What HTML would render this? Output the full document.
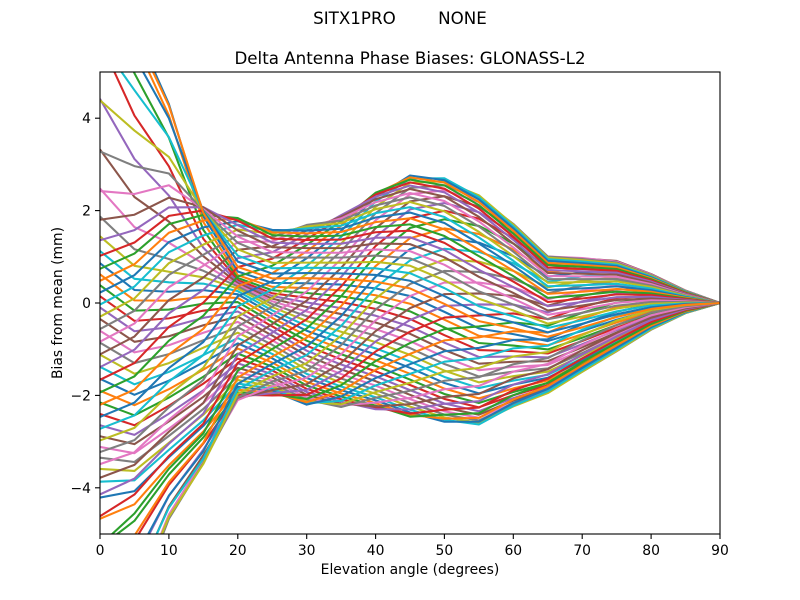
<!DOCTYPE html>
<html><head><meta charset="utf-8"><style>
html,body{margin:0;padding:0;background:#fff;width:800px;height:600px;overflow:hidden;}
svg{display:block;}
text{font-family:"DejaVu Sans","Liberation Sans",sans-serif;fill:#000;}
</style></head><body>
<svg id="s" width="800" height="600" xmlns="http://www.w3.org/2000/svg">
<rect x="0" y="0" width="800" height="600" fill="#fff"/>
<defs><clipPath id="cp"><rect x="100" y="72" width="620" height="462"/></clipPath></defs>
<g id="lines" clip-path="url(#cp)" fill="none" stroke-width="2.08" stroke-linejoin="round" stroke-linecap="butt"></g>
<rect x="100" y="72" width="620" height="462" fill="none" stroke="#000" stroke-width="1.1"/>
<g stroke="#000" stroke-width="1.1">
<line x1="100" y1="534" x2="100" y2="539"/>
<line x1="168.9" y1="534" x2="168.9" y2="539"/>
<line x1="237.8" y1="534" x2="237.8" y2="539"/>
<line x1="306.7" y1="534" x2="306.7" y2="539"/>
<line x1="375.6" y1="534" x2="375.6" y2="539"/>
<line x1="444.4" y1="534" x2="444.4" y2="539"/>
<line x1="513.3" y1="534" x2="513.3" y2="539"/>
<line x1="582.2" y1="534" x2="582.2" y2="539"/>
<line x1="651.1" y1="534" x2="651.1" y2="539"/>
<line x1="720" y1="534" x2="720" y2="539"/>
<line x1="95" y1="118.2" x2="100" y2="118.2"/>
<line x1="95" y1="210.6" x2="100" y2="210.6"/>
<line x1="95" y1="303" x2="100" y2="303"/>
<line x1="95" y1="395.4" x2="100" y2="395.4"/>
<line x1="95" y1="487.8" x2="100" y2="487.8"/>
</g>
<g font-size="13.9" text-anchor="middle">
<text x="100" y="555">0</text>
<text x="168.9" y="555">10</text>
<text x="237.8" y="555">20</text>
<text x="306.7" y="555">30</text>
<text x="375.6" y="555">40</text>
<text x="444.4" y="555">50</text>
<text x="513.3" y="555">60</text>
<text x="582.2" y="555">70</text>
<text x="651.1" y="555">80</text>
<text x="720" y="555">90</text>
</g>
<g font-size="13.9" text-anchor="end">
<text x="91" y="123.2">4</text>
<text x="91" y="215.6">2</text>
<text x="91" y="308">0</text>
<text x="91" y="400.4">−2</text>
<text x="91" y="492.8">−4</text>
</g>
<text x="410" y="574" font-size="13.9" text-anchor="middle">Elevation angle (degrees)</text>
<text transform="translate(62,303) rotate(-90)" font-size="13.9" text-anchor="middle">Bias from mean (mm)</text>
<text x="410" y="64" font-size="16.7" text-anchor="middle">Delta Antenna Phase Biases: GLONASS-L2</text>
<text x="400" y="24" font-size="16.7" text-anchor="middle" style="white-space:pre" xml:space="preserve">SITX1PRO        NONE</text>
</svg>
<script>
(function(){
var TT=[360,345,330,322,312,300,285,270,258,250,245,240,236,232,228,225,223,222,222];
var TB=[185,185,188,190,180,165,150,135,120,110,100,95,92,90,88,87,86,86,86];
var T=[2.2,2.0,2.15,2.2,2.05,1.65,1.7,1.9,2.4,2.76,2.7,2.33,1.72,1.02,0.98,0.91,0.63,0.27,0];
var B=[-4.7,-4.6,-3.9,-3.2,-2.1,-2.0,-2.2,-2.25,-2.3,-2.46,-2.57,-2.63,-2.25,-1.95,-1.5,-1.05,-0.58,-0.22,0];
var ST=[6.0,4.2,2.6,0.5,0,0,0,0,0,0,0,0,0,0,0,0,0,0,0];
var SB=[4.0,2.0,0.8,0.3,0,0,0,0,0,0,0,0,0,0,0,0,0,0,0];
var DP=[0,0,0,0.3,0.8,0.5,0.2,0,0,0,0,0,0,0,0,0,0,0,0];
function spk(th,c){return Math.exp(14*(Math.cos((th-c)*Math.PI/180)-1));}
function wspk(th,c){return Math.exp(4*(Math.cos((th-c)*Math.PI/180)-1));}
function md(x){return ((x%360)+360)%360;}
function shape(u){return 0.3*u+0.7*(1-Math.cos(Math.PI*u))/2;}
var C=["#1f77b4","#ff7f0e","#2ca02c","#d62728","#9467bd","#8c564b","#e377c2","#7f7f7f","#bcbd22","#17becf"];
var g=document.getElementById("lines");
var ns="http://www.w3.org/2000/svg";
var YMIN=66,YMAX=540;
for(var i=0;i<72;i++){
 var th=i*5;
 var pts=[];
 for(var j=0;j<19;j++){
  var LA=md(TT[j]-TB[j]); if(LA<1)LA=1;
  var a=md(th-TB[j]);
  var u=(a<=LA)?a/LA:(360-a)/(360-LA);
  var v=B[j]+(T[j]-B[j])*shape(u)+ST[j]*spk(th,0)-SB[j]*spk(th,185)-DP[j]*wspk(th,0);
  pts.push([100+j*5*620/90,303-v*46.2]);
 }
 var d="",open=false;
 for(var k=0;k<18;k++){
  var x1=pts[k][0],y1=pts[k][1],x2=pts[k+1][0],y2=pts[k+1][1];
  var t0=0,t1=1,dy=y2-y1;
  if(Math.abs(dy)<1e-9){ if(y1<YMIN||y1>YMAX){open=false;continue;} }
  else{
   var ta=(YMIN-y1)/dy,tb=(YMAX-y1)/dy;
   t0=Math.max(0,Math.min(ta,tb)); t1=Math.min(1,Math.max(ta,tb));
   if(t0>t1){open=false;continue;}
  }
  var xa=x1+(x2-x1)*t0,ya=y1+dy*t0,xb=x1+(x2-x1)*t1,yb=y1+dy*t1;
  if(!open||t0>0){d+="M"+xa.toFixed(2)+" "+ya.toFixed(2);}
  d+="L"+xb.toFixed(2)+" "+yb.toFixed(2);
  open=(t1>=1);
 }
 if(!d)continue;
 var p=document.createElementNS(ns,"path");
 p.setAttribute("d",d);
 p.setAttribute("stroke",C[i%10]);
 g.appendChild(p);
}
})();
</script>
</body></html>
